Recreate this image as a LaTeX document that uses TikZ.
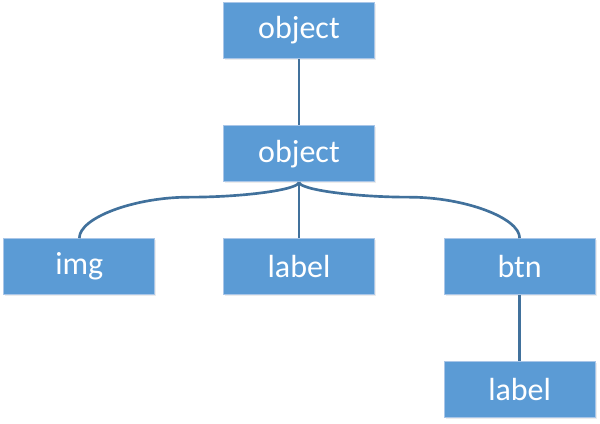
\documentclass[tikz,border=0pt]{standalone}
\usepackage{fontspec}
\setmainfont{Carlito}
\usetikzlibrary{positioning,calc,shadows}
\definecolor{boxblue}{HTML}{5B9BD5}
\definecolor{boxedge}{HTML}{A9C6E8}
\definecolor{linkblue}{HTML}{41719C}

\begin{document}
\begin{tikzpicture}[inner sep=0pt,
  box/.style={rectangle,fill=boxblue,draw=boxedge,line width=0.5pt,
    minimum width=113.25pt,minimum height=42pt,text=white,
    font=\fontsize{24}{28}\selectfont,
    drop shadow={opacity=0.15,shadow xshift=1pt,shadow yshift=-1pt}},
  link/.style={draw=linkblue,line width=2pt}]
  \useasboundingbox (-224.25pt,22.875pt) rectangle (225.75pt,-295.125pt);
  \node[box] (top) {object};
  \node[box] (mid) [below=50pt of top] {object};
  \node[box] (label) [below=42pt of mid] {label};
  \node[box] (img) [left=51pt of label] {img};
  \node[box] (btn) [right=51.75pt of label] {btn};
  \node[box] (btnlabel) [below=49.5pt of btn] {label};
  % brace level below the second object
  \coordinate (bar) at ([yshift=-11.25pt]mid.south);
  \coordinate (ml) at ($(img.north)!0.5!(mid.south)$);
  \coordinate (mr) at ($(btn.north)!0.5!(mid.south)$);
  \draw[link] (top) -- (mid);
  \draw[link] (mid) -- (label);
  \draw[link] (btn) -- (btnlabel);
  \draw[link] (img.north) .. controls +(0,15.4pt) and +(-41pt,0) .. (ml |- bar)
    .. controls +(41pt,0) and +(0,-5.6pt) .. (mid.south);
  \draw[link] (btn.north) .. controls +(0,15.4pt) and +(41pt,0) .. (mr |- bar)
    .. controls +(-41pt,0) and +(0,-5.6pt) .. (mid.south);
\end{tikzpicture}
\end{document}
